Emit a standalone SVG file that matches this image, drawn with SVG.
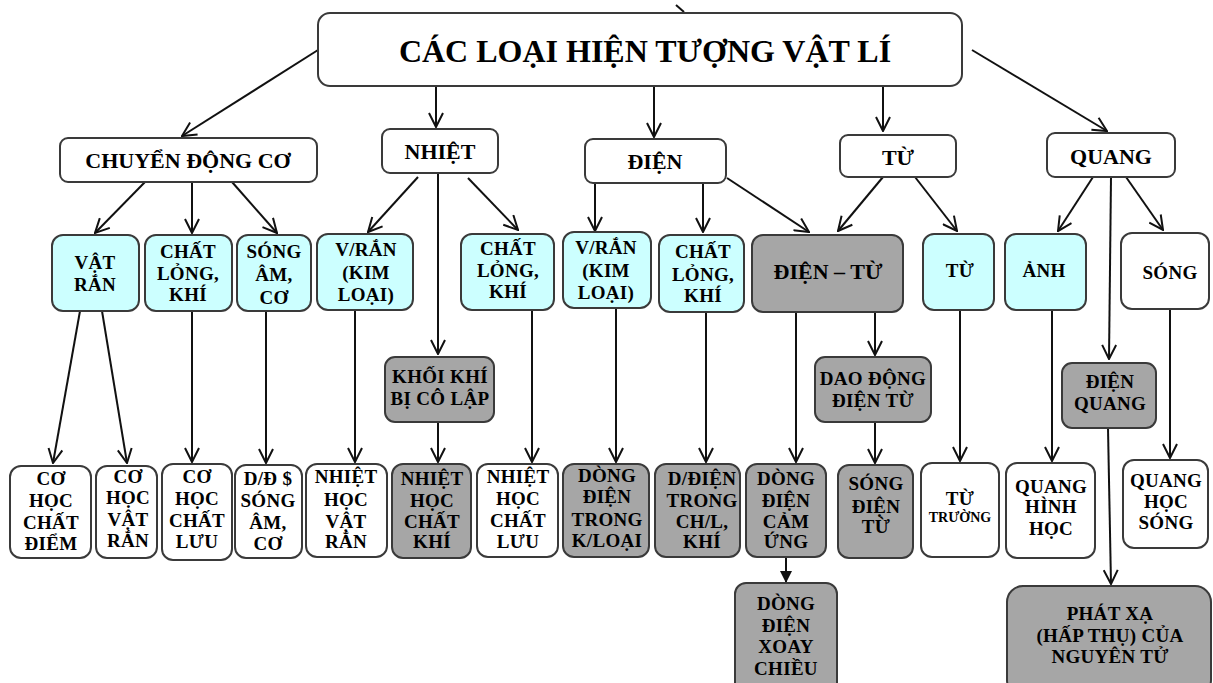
<svg xmlns="http://www.w3.org/2000/svg" width="1213" height="683" viewBox="0 0 1213 683">
<style>
.b{stroke:#3a3a3a;stroke-width:2}
.w{fill:#fff}.c{fill:#ccffff}.g{fill:#a6a6a6}
text{font-family:"Liberation Serif","Times New Roman",serif;font-weight:bold;text-anchor:middle;fill:#000}
.t1{font-size:32px}.t2{font-size:22px}.t3{font-size:19px;letter-spacing:0.3px}.t4{font-size:14px}
.ln{stroke:#111;stroke-width:2;fill:none;marker-end:url(#a)}
</style>
<defs>
<marker id="a" viewBox="0 0 16 16" refX="15" refY="8" markerWidth="16" markerHeight="16" markerUnits="userSpaceOnUse" orient="auto">
<path d="M1,1 L15,8 L1,15" fill="none" stroke="#111" stroke-width="2"/>
</marker>
<marker id="f" viewBox="0 0 12 12" refX="12" refY="6" markerWidth="12" markerHeight="12" markerUnits="userSpaceOnUse" orient="auto">
<path d="M0,0 L12,6 L0,12 Z" fill="#111"/>
</marker>
</defs>
<g id="connectors">
<path d="M676,5 L684,12" stroke="#111" stroke-width="2" fill="none"/>
<path class="ln" d="M318,50 L182,136"/>
<path class="ln" d="M436,86 L436,127"/>
<path class="ln" d="M654,86 L654,137"/>
<path class="ln" d="M883,86 L883,131"/>
<path class="ln" d="M972,50 L1107,131"/>
<path class="ln" d="M145,182 L95,233"/>
<path class="ln" d="M192,182 L192,233"/>
<path class="ln" d="M232,182 L277,233"/>
<path class="ln" d="M418,177 L368,232"/>
<path class="ln" d="M438,173 L438,354"/>
<path class="ln" d="M468,178 L518,230"/>
<path class="ln" d="M595,181 L595,231"/>
<path class="ln" d="M703,183 L703,232"/>
<path class="ln" d="M727,178 L809,232"/>
<path class="ln" d="M883,177 L838,231"/>
<path class="ln" d="M915,177 L957,231"/>
<path class="ln" d="M1093,177 L1058,231"/>
<path class="ln" d="M1111,177 L1109,359"/>
<path class="ln" d="M1126,177 L1163,230"/>
<path class="ln" d="M80,311 L53,463"/>
<path class="ln" d="M102,311 L127,463"/>
<path class="ln" d="M192,311 L192,462"/>
<path class="ln" d="M266,311 L266,463"/>
<path class="ln" d="M355,310 L355,462"/>
<path class="ln" d="M438,422 L438,462"/>
<path class="ln" d="M532,310 L532,462"/>
<path class="ln" d="M616,308 L616,462"/>
<path class="ln" d="M706,312 L706,462"/>
<path class="ln" d="M796,312 L796,462"/>
<path class="ln" d="M875,312 L875,355"/>
<path class="ln" d="M875,422 L875,463"/>
<path class="ln" d="M960,310 L960,461"/>
<path class="ln" d="M1052,310 L1052,461"/>
<path class="ln" d="M1108,428 L1111,584"/>
<path class="ln" d="M1170,309 L1170,458"/>
<path d="M786,557 L786,583" stroke="#111" stroke-width="2" fill="none" marker-end="url(#f)"/>
</g>
<g id="root"><rect class="b w" x="318" y="13" width="644" height="73" rx="12"/><text class="t1" x="645" y="62">CÁC LOẠI HIỆN TƯỢNG VẬT LÍ</text></g>
<g id="chuyen-dong-co"><rect class="b w" x="60" y="138" width="257" height="44" rx="8"/><text class="t2" x="188" y="168">CHUYỂN ĐỘNG CƠ</text></g>
<g id="nhiet"><rect class="b w" x="382" y="129" width="116" height="44" rx="8"/><text class="t2" x="440" y="159">NHIỆT</text></g>
<g id="dien"><rect class="b w" x="585" y="139" width="141" height="44" rx="8"/><text class="t2" x="655" y="169">ĐIỆN</text></g>
<g id="tu"><rect class="b w" x="840" y="135" width="116" height="42" rx="8"/><text class="t2" x="898" y="165">TỪ</text></g>
<g id="quang"><rect class="b w" x="1047" y="133" width="128" height="44" rx="8"/><text class="t2" x="1111" y="164">QUANG</text></g>

<g id="vat-ran"><rect class="b c" x="52" y="235" width="87" height="76" rx="11"/><text class="t3"><tspan x="95" y="269">VẬT</tspan><tspan x="95" y="291">RẮN</tspan></text></g>
<g id="chat-long-khi-1"><rect class="b c" x="145" y="235" width="87" height="76" rx="11"/><text class="t3"><tspan x="188" y="258">CHẤT</tspan><tspan x="188" y="280">LỎNG,</tspan><tspan x="188" y="301">KHÍ</tspan></text></g>
<g id="song-am-co"><rect class="b c" x="237" y="235" width="74" height="76" rx="11"/><text class="t3"><tspan x="274" y="258">SÓNG</tspan><tspan x="274" y="281">ÂM,</tspan><tspan x="274" y="304">CƠ</tspan></text></g>
<g id="v-ran-1"><rect class="b c" x="317" y="234" width="96" height="76" rx="11"/><text class="t3"><tspan x="366" y="256">V/RẮN</tspan><tspan x="366" y="279">(KIM</tspan><tspan x="366" y="301">LOẠI)</tspan></text></g>
<g id="khoi-khi"><rect class="b g" x="385" y="357" width="109" height="65" rx="10"/><text class="t3"><tspan x="440" y="383">KHỐI KHÍ</tspan><tspan x="440" y="405">BỊ CÔ LẬP</tspan></text></g>
<g id="chat-long-khi-2"><rect class="b c" x="461" y="234" width="93" height="76" rx="11"/><text class="t3"><tspan x="508" y="255">CHẤT</tspan><tspan x="508" y="277">LỎNG,</tspan><tspan x="508" y="298">KHÍ</tspan></text></g>
<g id="v-ran-2"><rect class="b c" x="563" y="232" width="88" height="76" rx="11"/><text class="t3"><tspan x="606" y="254">V/RẮN</tspan><tspan x="606" y="277">(KIM</tspan><tspan x="606" y="299">LOẠI)</tspan></text></g>
<g id="chat-long-khi-3"><rect class="b c" x="659" y="235" width="85" height="77" rx="11"/><text class="t3"><tspan x="703" y="258">CHẤT</tspan><tspan x="703" y="281">LỎNG,</tspan><tspan x="703" y="302">KHÍ</tspan></text></g>
<g id="dien-tu"><rect class="b g" x="752" y="235" width="151" height="77" rx="11"/><text class="t2" x="828" y="279">ĐIỆN – TỪ</text></g>
<g id="dao-dong"><rect class="b g" x="815" y="357" width="116" height="65" rx="10"/><text class="t3"><tspan x="873" y="385">DAO ĐỘNG</tspan><tspan x="873" y="407">ĐIỆN TỪ</tspan></text></g>
<g id="tu-2"><rect class="b c" x="923" y="234" width="71" height="76" rx="11"/><text class="t3" x="960" y="277">TỪ</text></g>
<g id="anh"><rect class="b c" x="1005" y="234" width="81" height="76" rx="11"/><text class="t3" x="1044" y="277">ẢNH</text></g>
<g id="song"><rect class="b w" x="1121" y="233" width="88" height="76" rx="11"/><text class="t3" x="1170" y="279">SÓNG</text></g>
<g id="dien-quang"><rect class="b g" x="1062" y="363" width="94" height="65" rx="10"/><text class="t3"><tspan x="1110" y="388">ĐIỆN</tspan><tspan x="1110" y="410">QUANG</tspan></text></g>

<g id="co-hoc-chat-diem"><rect class="b w" x="10" y="466" width="81" height="92" rx="11"/><text class="t3"><tspan x="51" y="485">CƠ</tspan><tspan x="51" y="507">HỌC</tspan><tspan x="51" y="529">CHẤT</tspan><tspan x="51" y="550">ĐIỂM</tspan></text></g>
<g id="co-hoc-vat-ran"><rect class="b w" x="96" y="466" width="61" height="92" rx="11"/><text class="t3"><tspan x="128" y="483">CƠ</tspan><tspan x="128" y="504">HỌC</tspan><tspan x="128" y="526">VẬT</tspan><tspan x="128" y="547">RẮN</tspan></text></g>
<g id="co-hoc-chat-luu"><rect class="b w" x="162" y="464" width="70" height="96" rx="11"/><text class="t3"><tspan x="197" y="483">CƠ</tspan><tspan x="197" y="505">HỌC</tspan><tspan x="197" y="527">CHẤT</tspan><tspan x="197" y="548">LƯU</tspan></text></g>
<g id="dd-song-am"><rect class="b w" x="235" y="465" width="67" height="93" rx="11"/><text class="t3"><tspan x="268" y="485">D/Đ $</tspan><tspan x="268" y="507">SÓNG</tspan><tspan x="268" y="529">ÂM,</tspan><tspan x="268" y="550">CƠ</tspan></text></g>
<g id="nhiet-hoc-vat-ran"><rect class="b w" x="306" y="464" width="81" height="93" rx="11"/><text class="t3"><tspan x="346" y="483">NHIỆT</tspan><tspan x="346" y="506">HỌC</tspan><tspan x="346" y="528">VẬT</tspan><tspan x="346" y="548">RẮN</tspan></text></g>
<g id="nhiet-hoc-chat-khi"><rect class="b g" x="392" y="464" width="79" height="94" rx="11"/><text class="t3"><tspan x="432" y="485">NHIỆT</tspan><tspan x="432" y="507">HỌC</tspan><tspan x="432" y="528">CHẤT</tspan><tspan x="432" y="548">KHÍ</tspan></text></g>
<g id="nhiet-hoc-chat-luu"><rect class="b w" x="477" y="464" width="81" height="93" rx="11"/><text class="t3"><tspan x="518" y="483">NHIỆT</tspan><tspan x="518" y="505">HỌC</tspan><tspan x="518" y="527">CHẤT</tspan><tspan x="518" y="548">LƯU</tspan></text></g>
<g id="dong-dien-kim-loai"><rect class="b g" x="563" y="464" width="86" height="93" rx="11"/><text class="t3"><tspan x="607" y="482">DÒNG</tspan><tspan x="607" y="503">ĐIỆN</tspan><tspan x="607" y="526">TRONG</tspan><tspan x="607" y="547">K/LOẠI</tspan></text></g>
<g id="dong-dien-chl-khi"><rect class="b g" x="655" y="464" width="85" height="93" rx="11"/><text class="t3"><tspan x="702" y="485">D/ĐIỆN</tspan><tspan x="702" y="507">TRONG</tspan><tspan x="702" y="528">CH/L,</tspan><tspan x="702" y="548">KHÍ</tspan></text></g>
<g id="dong-dien-cam-ung"><rect class="b g" x="746" y="464" width="80" height="93" rx="11"/><text class="t3"><tspan x="786" y="485">DÒNG</tspan><tspan x="786" y="507">ĐIỆN</tspan><tspan x="786" y="528">CẢM</tspan><tspan x="786" y="548">ỨNG</tspan></text></g>
<g id="dong-dien-xoay-chieu"><rect class="b g" x="735" y="583" width="102" height="110" rx="11"/><text class="t3"><tspan x="786" y="610">DÒNG</tspan><tspan x="786" y="632">ĐIỆN</tspan><tspan x="786" y="653">XOAY</tspan><tspan x="786" y="675">CHIỀU</tspan></text></g>
<g id="song-dien-tu"><rect class="b g" x="838" y="465" width="75" height="93" rx="11"/><text class="t3"><tspan x="876" y="490">SÓNG</tspan><tspan x="876" y="513">ĐIỆN</tspan><tspan x="876" y="533">TỪ</tspan></text></g>
<g id="tu-truong"><rect class="b w" x="921" y="463" width="78" height="94" rx="11"/><text class="t3" x="960" y="505">TỪ</text><text class="t4" x="960" y="522">TRƯỜNG</text></g>
<g id="quang-hinh-hoc"><rect class="b w" x="1006" y="463" width="89" height="95" rx="11"/><text class="t3"><tspan x="1051" y="493">QUANG</tspan><tspan x="1051" y="513">HÌNH</tspan><tspan x="1051" y="535">HỌC</tspan></text></g>
<g id="quang-hoc-song"><rect class="b w" x="1123" y="460" width="85" height="88" rx="11"/><text class="t3"><tspan x="1166" y="487">QUANG</tspan><tspan x="1166" y="508">HỌC</tspan><tspan x="1166" y="529">SÓNG</tspan></text></g>
<g id="phat-xa"><rect class="b g" x="1007" y="586" width="204" height="110" rx="16"/><text class="t3"><tspan x="1110" y="620">PHÁT XẠ</tspan><tspan x="1110" y="642">(HẤP THỤ) CỦA</tspan><tspan x="1110" y="663">NGUYÊN TỬ</tspan></text></g>
</svg>
